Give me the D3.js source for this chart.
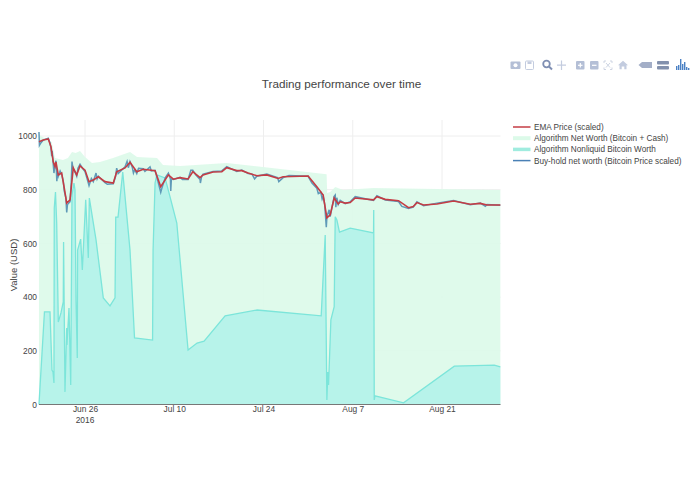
<!DOCTYPE html>
<html>
<head>
<meta charset="utf-8">
<script src="https://cdn.jsdelivr.net/npm/d3@7"></script>
<style>
  html, body { margin: 0; padding: 0; background: #fff; }
  text { font-family: "Liberation Sans", arial, sans-serif; fill: #444; }
</style>
</head>
<body>
<div id="chart"></div>
<script>
// all x values are days counted from Jun 26 2016
const netDays = [-7.22,-5.23,-4.71,-3.45,-2.67,-2.04,-1.46,-0.78,0,1.1,2.35,4.4,7.06,8.16,11.3,12.24,14.91,22.24,37.9,37.99,38.46,39.25,40.5,45.21,65.15];
const netValues = [1004,978,918,911,918,940,937,944,922,899,903,918,940,922,918,892,888,899,858,788,791,810,799,806,799];

const nonliquidDays = [-7.22,-6.36,-5.49,-5.18,-5.02,-4.87,-4.82,-4.63,-4.44,-4.19,-3.77,-3.41,-3.36,-3.14,-2.87,-2.83,-2.51,-2.24,-2.04,-1.73,-1.57,-1.41,-1.21,-1.16,-0.68,-0.42,0.11,0.52,0.68,1.73,2.87,3.92,4.71,4.82,5.18,5.92,7.06,7.77,10.6,10.68,10.99,11.26,12.56,13.34,14.4,16.17,17.58,18.68,21.98,27,37.05,37.68,37.94,38.1,38.2,38.57,39.09,39.25,39.51,39.92,41.6,45.26,45.29,45.37,45.48,49.97,57.93,64.21,65.15];
const nonliquidValues = [0,345,345,128,121,80,732,791,676,307,341,382,605,47,285,222,359,73,780,825,799,389,173,575,616,501,762,546,769,613,397,367,397,698,698,866,575,248,240,575,825,855,844,773,676,203,229,236,330,352,330,631,17,121,73,315,364,699,687,642,657,639,724,17,32,6,143,147,140];

const emaDays = [-7.22,-6.55,-5.76,-5.34,-4.98,-4.71,-4.55,-4.19,-3.66,-3.25,-2.87,-2.35,-1.84,-1.3,-0.78,0,0.63,1.3,2.09,3.14,4.44,4.97,6.28,7.06,8.12,9.15,10.99,11.88,13.08,13.86,14.91,16.17,16.91,18.05,18.52,20.09,21.46,22.24,23.81,24.6,25.59,26.95,28.52,30.3,31.08,35,36.37,37.36,37.94,38.46,39.09,39.72,40.03,40.82,41.6,42.39,45.26,45.79,47.1,49.18,50.75,51.49,52.07,53.11,55.21,57.82,60.44,62.01,63.06,65.15];
const emaValues = [979,985,989,960,904,886,903,855,862,806,750,762,881,855,889,873,830,836,848,830,825,867,881,902,867,876,871,811,855,839,845,840,867,845,855,866,867,882,871,871,862,852,855,842,848,851,811,780,695,706,769,747,755,750,752,769,762,774,764,759,733,737,752,743,747,758,746,749,743,743];

const holdDays = [-7.22,-7.15,-6.9,-6.55,-5.76,-5.5,-5.34,-5.22,-5.15,-4.98,-4.87,-4.75,-4.55,-4.42,-4.3,-4.19,-3.9,-3.66,-3.4,-3.25,-3,-2.87,-2.75,-2.35,-2.15,-2.04,-1.9,-1.5,-1.3,-1.1,-0.78,-0.4,0,0.4,0.63,0.8,1,1.3,1.73,1.9,2.09,3.14,3.5,4.44,4.8,4.97,5.2,6.28,6.6,6.8,7.06,7.4,7.6,7.8,8.12,8.4,9.15,9.4,10.2,10.4,10.99,11.4,11.88,12.05,12.6,13.08,13.4,13.45,13.55,13.86,14.91,15.3,16.17,16.6,16.91,17.4,18.05,18.1,18.3,18.52,20.09,21.46,22.24,23.81,24.6,25.59,26.2,26.6,26.95,28.52,30.2,30.4,31.08,32,35,35.6,36.37,36.6,37,37.2,37.36,37.6,37.85,37.95,38.3,38.46,39.09,39.25,39.35,39.5,39.72,40.03,40.82,41.6,42.39,45.26,45.79,47.1,49.18,49.7,50.75,51.49,52.07,53.11,55.21,57.82,60.44,62.01,62.8,63.06,65.15];
const holdValues = [1015,965,975,985,992,975,955,925,945,895,862,885,908,832,862,850,870,858,830,795,770,715,745,755,830,905,880,862,850,880,895,880,868,835,815,828,842,830,862,840,850,826,820,822,850,880,860,885,905,882,905,885,862,875,860,880,878,868,885,870,872,835,790,805,845,862,840,795,840,838,846,838,838,872,872,855,838,825,850,858,868,870,886,868,873,860,858,840,850,858,845,830,845,853,850,825,805,785,790,765,775,745,660,700,725,700,775,780,735,770,745,760,748,755,774,760,778,762,756,738,730,735,755,740,750,760,744,750,738,745,742];

const xTickDays = [0, 14, 28, 42, 56];
const yTicks = [0, 200, 400, 600, 800, 1000];
const legendNames = [
  "EMA Price (scaled)",
  "Algorithm Net Worth (Bitcoin + Cash)",
  "Algorithm Nonliquid Bitcoin Worth",
  "Buy-hold net worth (Bitcoin Price scaled)"
];

const width = 695;
const height = 494;
const plot = { left: 39, right: 500.5, top: 120, bottom: 404.5 };
const colors = {
  netFill: "#dcfae9",
  tealFill: "#b4f2ea",
  tealLine: "#7ce5da",
  ema: "#c43c44",
  hold: "#5f9ab8",
  grid: "#eeeeee"
};

const baseDate = new Date(2016, 5, 26).getTime();
const toDate = (d) => new Date(baseDate + d * 864e5);
const x = d3.scaleTime()
  .domain([toDate(0), toDate(56)])
  .range([85, 442]);
const y = d3.scaleLinear()
  .domain([0, 1000])
  .range([plot.bottom, 136]);

const zipSeries = (days, values) => days.map((d, i) => ({ day: d, value: values[i] }));
const net = zipSeries(netDays, netValues);
const nonliquid = zipSeries(nonliquidDays, nonliquidValues);
const ema = zipSeries(emaDays, emaValues);
const hold = zipSeries(holdDays, holdValues);

const svg = d3.select("#chart").append("svg")
  .attr("width", width)
  .attr("height", height)
  .style("display", "block");

// grid
svg.append("g").selectAll("line")
  .data(yTicks.slice(1))
  .enter().append("line")
  .attr("x1", plot.left).attr("x2", plot.right)
  .attr("y1", (d) => y(d)).attr("y2", (d) => y(d))
  .attr("stroke", colors.grid);
svg.append("g").selectAll("line")
  .data(xTickDays)
  .enter().append("line")
  .attr("x1", (d) => x(toDate(d))).attr("x2", (d) => x(toDate(d)))
  .attr("y1", plot.top).attr("y2", plot.bottom)
  .attr("stroke", colors.grid);

const areaOf = d3.area()
  .x((d) => x(toDate(d.day)))
  .y0(y(0))
  .y1((d) => y(d.value));
const lineOf = d3.line()
  .x((d) => x(toDate(d.day)))
  .y((d) => y(d.value));

svg.append("path").attr("d", areaOf(net)).attr("fill", colors.netFill).attr("fill-opacity", 0.92);
svg.append("path").attr("d", areaOf(nonliquid)).attr("fill", colors.tealFill).attr("fill-opacity", 0.95);

svg.append("path").attr("d", lineOf(nonliquid))
  .attr("fill", "none").attr("stroke", colors.tealLine).attr("stroke-width", 1.3);
svg.append("path").attr("d", lineOf(hold))
  .attr("fill", "none").attr("stroke", colors.hold).attr("stroke-width", 1.5);
svg.append("path").attr("d", lineOf(ema))
  .attr("fill", "none").attr("stroke", colors.ema).attr("stroke-width", 1.6);

// axes
const xAxis = d3.axisBottom(x)
  .tickValues(xTickDays.map(toDate))
  .tickFormat(d3.timeFormat("%b %-d"))
  .tickSize(0)
  .tickPadding(2);
const xG = svg.append("g")
  .attr("transform", `translate(0,${plot.bottom})`)
  .call(xAxis);
xG.select(".domain").remove();
xG.selectAll("text").attr("font-size", 8.4).style("font-family", null);
xG.append("text")
  .attr("x", x(toDate(0))).attr("y", 12.5)
  .attr("dy", "0.71em")
  .attr("text-anchor", "middle")
  .attr("font-size", 8.4)
  .text("2016");

const yAxis = d3.axisLeft(y)
  .tickValues(yTicks)
  .tickFormat(d3.format("d"))
  .tickSize(0)
  .tickPadding(2);
const yG = svg.append("g")
  .attr("transform", `translate(${plot.left},0)`)
  .call(yAxis);
yG.select(".domain").remove();
yG.selectAll("text").attr("font-size", 8.4).style("font-family", null);

svg.append("line")
  .attr("x1", plot.left).attr("x2", plot.right)
  .attr("y1", y(0)).attr("y2", y(0))
  .attr("stroke", "#777").attr("stroke-width", 1);

svg.append("text")
  .attr("transform", "translate(17,265) rotate(-90)")
  .attr("text-anchor", "middle")
  .attr("font-size", 9.5)
  .text("Value (USD)");

svg.append("text")
  .attr("x", 341.5).attr("y", 88)
  .attr("text-anchor", "middle")
  .attr("font-size", 11.7)
  .text("Trading performance over time");

// legend
const legend = svg.append("g").selectAll("g")
  .data(legendNames)
  .enter().append("g")
  .attr("transform", (d, i) => `translate(513,${127 + i * 11.2})`);
legend.append("text")
  .attr("x", 21).attr("y", 3)
  .attr("font-size", 8.2)
  .text((d) => d);
const legendStyles = [
  { stroke: colors.ema, w: 1.5 },
  { stroke: colors.netFill, w: 4 },
  { stroke: "#a0ecdf", w: 3.5 },
  { stroke: "#4a80b5", w: 1.5 }
];
legend.append("line")
  .attr("x1", 0).attr("x2", 17.5)
  .attr("stroke", (d, i) => legendStyles[i].stroke)
  .attr("stroke-width", (d, i) => legendStyles[i].w);

// modebar, plain shapes standing in for the plotly icons
const bar = svg.append("g").attr("fill", "#b4bfd6").attr("stroke", "none");
const rect = (g, rx, ry, w, h, r) => g.append("rect").attr("x", rx).attr("y", ry).attr("width", w).attr("height", h).attr("rx", r || 0);

rect(bar, 510.5, 61.5, 10, 7.5, 1);
bar.append("circle").attr("cx", 515.5).attr("cy", 65.2).attr("r", 2).attr("fill", "#fff");
rect(bar, 525.5, 61, 8, 8.5, 1).attr("fill", "none").attr("stroke", "#c3ccdf");
rect(bar, 527.5, 61.5, 4, 2.5).attr("fill", "#c3ccdf");

bar.append("circle").attr("cx", 546.5).attr("cy", 64).attr("r", 3.3)
  .attr("fill", "none").attr("stroke", "#7f8fb3").attr("stroke-width", 1.8);
bar.append("line").attr("x1", 549).attr("y1", 66.5).attr("x2", 552).attr("y2", 69.5)
  .attr("stroke", "#7f8fb3").attr("stroke-width", 2);
bar.append("path").attr("d", "M561.5 60.5V70M557 65.2H566").attr("stroke", "#c3ccdf").attr("stroke-width", 1.2);

rect(bar, 576, 61, 8.5, 8.5, 1);
rect(bar, 578, 64.7, 4.5, 1.2).attr("fill", "#fff");
rect(bar, 579.7, 63, 1.2, 4.5).attr("fill", "#fff");
rect(bar, 590, 61, 8.5, 8.5, 1);
rect(bar, 592, 64.7, 4.5, 1.2).attr("fill", "#fff");

bar.append("path").attr("d", "M604 61h2M604 61v2M612 61h-2M612 61v2M604 69.5h2M604 69.5v-2M612 69.5h-2M612 69.5v-2M606 63l4 4.5M610 63l-4 4.5")
  .attr("stroke", "#c8d0e0").attr("fill", "none").attr("stroke-width", 0.9);
bar.append("path").attr("d", "M623 60.8L628 65.2H626.5V69.3H624.3V66.5H621.7V69.3H619.5V65.2H618Z").attr("fill", "#c3ccdf");

bar.append("path").attr("d", "M638.5 65L642 62H652V68H642Z").attr("fill", "#a3aec7");
rect(bar, 657, 61, 12, 3.5, 1).attr("fill", "#8391ad");
rect(bar, 657, 66, 12, 3.5, 1).attr("fill", "#8391ad");

const logoBars = [[676,4],[678,5],[680,11],[682,6],[684,8],[686,3],[688,2]];
svg.append("g").selectAll("rect")
  .data(logoBars)
  .enter().append("rect")
  .attr("x", (d) => d[0]).attr("y", (d) => 70 - d[1])
  .attr("width", 1.4).attr("height", (d) => d[1])
  .attr("fill", "#4a80c4");
</script>
</body>
</html>
